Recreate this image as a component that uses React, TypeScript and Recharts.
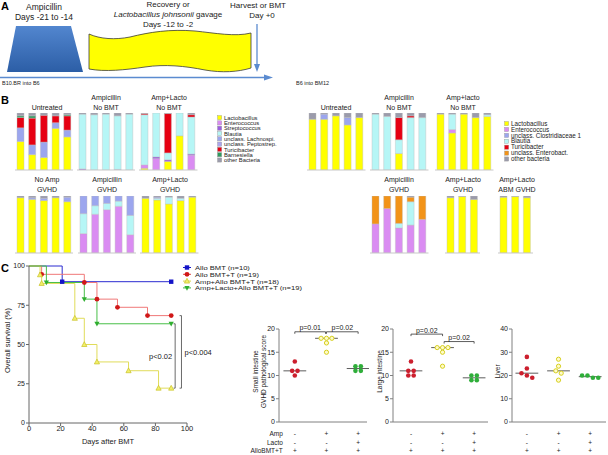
import React from 'react';
import { BarChart, Bar, XAxis, YAxis, LineChart, Line, ScatterChart, Scatter, ReferenceLine, Label } from 'recharts';

const FONT = 'Arial, "Liberation Sans", Helvetica, sans-serif';
const TXT = '#222';

// ---------- Panel B data ----------
const TAXA_COLORS: Record<string, string> = {
  lacto: '#ffff00', entero: '#da8cf2', strepto: '#9c5fe0', blautia: '#b6f6f6', lachno: '#9ca6ee',
  pepto: '#aaa4ec', turici: '#e60012', barnes: '#2f9a5f', other: '#9b9bab', clostri: '#9ca6ee', enterob: '#f29318',
};
const LEFT_KEYS = ['lacto', 'entero', 'strepto', 'blautia', 'lachno', 'pepto', 'turici', 'barnes', 'other'];
const RIGHT_KEYS = ['lacto', 'entero', 'clostri', 'blautia', 'turici', 'enterob', 'other'];
const LEFT_LEGEND = [
  ['Lactobacillus', 'lacto'], ['Enterococcus', 'entero'], ['Streptococcus', 'strepto'], ['Blautia', 'blautia'],
  ['unclass. Lachnospi.', 'lachno'], ['unclass. Peptostrep.', 'pepto'], ['Turicibacter', 'turici'],
  ['Barnesiella', 'barnes'], ['other Bacteria', 'other'],
];
const RIGHT_LEGEND = [
  ['Lactobacillus', 'lacto'], ['Enterococcus', 'entero'], ['unclass. Clostridiaceae 1', 'clostri'], ['Blautia', 'blautia'],
  ['Turicibacter', 'turici'], ['unclass. Enterobact.', 'enterob'], ['other bacteria', 'other'],
];

const untreatedL = [
  { lacto: 50, lachno: 24, turici: 18, barnes: 3, other: 5 },
  { lacto: 27, lachno: 17, turici: 47, barnes: 4, other: 5 },
  { lacto: 22, lachno: 27, turici: 47, other: 4 },
  { lacto: 73, lachno: 10, turici: 12, other: 5 },
  { lacto: 58, lachno: 12, turici: 25, barnes: 2, other: 3 },
];
const ampNoBmtL = [
  { strepto: 2, blautia: 96, other: 2 },
  { blautia: 97, other: 3 },
  { blautia: 98, other: 2 },
  { strepto: 1, blautia: 94, other: 5 },
  { blautia: 98, other: 2 },
];
const lactoNoBmtL = [
  { lacto: 3, entero: 6, blautia: 88, turici: 2, other: 1 },
  { entero: 20, strepto: 3, blautia: 77 },
  { lacto: 15, strepto: 3, blautia: 12, turici: 69, other: 1 },
  { lacto: 60, blautia: 40 },
  { entero: 26, strepto: 2, blautia: 65, turici: 4, other: 3 },
];
const noAmpGvhdL = [
  { lacto: 97, other: 3 },
  { lacto: 94, lachno: 3, other: 3 },
  { lacto: 92, lachno: 4, other: 4 },
  { lacto: 97, other: 3 },
  { lacto: 90, lachno: 8, other: 2 },
];
const ampGvhdL = [
  { entero: 34, blautia: 35, lachno: 31 },
  { entero: 68, blautia: 15, lachno: 17 },
  { entero: 76, blautia: 11, lachno: 13 },
  { entero: 82, blautia: 9, lachno: 9 },
  { entero: 32, blautia: 34, lachno: 34 },
];
const lactoGvhdL = [
  { lacto: 96, other: 4 },
  { lacto: 93, blautia: 3, lachno: 2, other: 2 },
  { lacto: 86, blautia: 12, other: 2 },
  { lacto: 92, blautia: 4, other: 4 },
  { lacto: 98, other: 2 },
];
const untreatedR = [
  { lacto: 89, other: 11 },
  { lacto: 89, clostri: 9, other: 2 },
  { lacto: 95, other: 5 },
  { lacto: 79, clostri: 13, other: 8 },
  { lacto: 92, other: 8 },
];
const ampNoBmtR = [
  { blautia: 98, other: 2 },
  { blautia: 94, other: 6 },
  { lacto: 29, blautia: 24, turici: 39, other: 8 },
  { blautia: 92, turici: 3, other: 5 },
  { blautia: 92, other: 8 },
];
const lactoNoBmtR = [
  { lacto: 98, other: 2 },
  { lacto: 65, entero: 6, blautia: 27, other: 2 },
  { lacto: 98, other: 2 },
  { lacto: 92, other: 8 },
  { lacto: 94, blautia: 3, other: 3 },
];
const ampGvhdR = [
  { entero: 51, enterob: 49 },
  { entero: 78, enterob: 22 },
  { entero: 44, blautia: 8, enterob: 48 },
  { entero: 49, blautia: 41, enterob: 8, other: 2 },
  { entero: 59, enterob: 41 },
];
const lactoGvhdR = [
  { lacto: 97, other: 3 },
  { lacto: 99, other: 1 },
  { lacto: 94, other: 6 },
];
const abmGvhdR = [
  { lacto: 98, other: 2 },
  { lacto: 99, other: 1 },
  { lacto: 97, other: 3 },
];

// ---------- Panel C survival data ----------
const alloBmt = [{ x: 0, y: 100 }, { x: 21, y: 90 }, { x: 90, y: 90 }];
const alloBmtT = [{ x: 0, y: 100 }, { x: 8, y: 94.7 }, { x: 35, y: 89.5 }, { x: 43, y: 78.9 }, { x: 56, y: 73.7 }, { x: 75, y: 68.4 }, { x: 90, y: 68.4 }];
const ampAllo = [{ x: 0, y: 100 }, { x: 7, y: 94.4 }, { x: 8, y: 88.9 }, { x: 29, y: 66.7 }, { x: 35, y: 50 }, { x: 43, y: 38.9 }, { x: 63, y: 33.3 }, { x: 82, y: 22.2 }, { x: 90, y: 22.2 }];
const ampLactoAllo = [{ x: 0, y: 100 }, { x: 11, y: 89.5 }, { x: 35, y: 78.9 }, { x: 43, y: 63.2 }, { x: 90, y: 63.2 }];
const survivalTicksX = [0, 20, 40, 60, 80, 100];
const survivalTicksY = [0, 25, 50, 75, 100];

// ---------- Panel C dot plots ----------
const siRed = [13, 11, 11, 10];
const siYellow = [18, 18, 18, 17, 15];
const siGreen = [12, 12, 11, 11];
const liRed = [13, 11, 11, 10, 10];
const liYellow = [16, 16, 16, 15, 12];
const liGreen = [10, 10, 9, 9];
const lvRed = [28, 23, 21, 20, 19];
const lvYellow = [27, 24, 22, 21, 18];
const lvGreen = [20, 20, 19, 19];
const ampRow = ['-', '+', '+'];
const lactoRow = ['-', '-', '+'];
const alloRow = ['+', '+', '+'];
const SIGN_ROWS = [
  { name: 'Amp', signs: ampRow },
  { name: 'Lacto', signs: lactoRow },
  { name: 'AlloBMT+T', signs: alloRow },
];

// ---------- helpers ----------
function StackGroup({ data, keys, left, top }: any) {
  const rows = data.map((d: any, i: number) => {
    const r: any = { id: i };
    keys.forEach((k: string) => { r[k] = d[k] ?? 0; });
    return r;
  });
  const width = rows.length * 11.7;
  return (
    <div style={{ position: 'absolute', left, top }}>
      <BarChart width={width} height={58} data={rows} margin={{ top: 0, right: 0, bottom: 0, left: 0 }} barSize={7}>
        <XAxis dataKey="id" tick={false} tickLine={false} height={1} axisLine={{ stroke: '#c8c8c8' }} />
        <YAxis hide domain={[0, 100]} allowDataOverflow />
        {keys.map((k: string) => (
          <Bar key={k} dataKey={k} stackId="s" fill={TAXA_COLORS[k]} stroke="#bdbdbd" strokeWidth={0.4} isAnimationActive={false} />
        ))}
      </BarChart>
    </div>
  );
}

function GroupTitle({ cx, y, lines }: any) {
  return (
    <>
      {lines.map((l: string, i: number) => (
        <div key={i} style={{ position: 'absolute', left: cx - 40, width: 80, top: y + i * 10 - 7, textAlign: 'center', fontSize: 7, lineHeight: '9px', color: TXT, whiteSpace: 'nowrap' }}>{l}</div>
      ))}
    </>
  );
}

function TaxaLegend({ items, x, y, step, fs }: any) {
  return (
    <svg width={120} height={70} style={{ position: 'absolute', left: x, top: y }}>
      {items.map(([name, key]: any, i: number) => (
        <g key={key}>
          <rect x={0.5} y={i * step + 0.5} width={4.2} height={4.2} fill={TAXA_COLORS[key]} stroke="#999" strokeWidth={0.4} />
          <text x={7} y={i * step + 4.7} fontSize={fs} fill="#1a1a1a" fontFamily={FONT}>{name}</text>
        </g>
      ))}
    </svg>
  );
}

function markerShape(kind: string, cx: number, cy: number, key: any) {
  if (kind === 'square') return <rect key={key} x={cx - 2.2} y={cy - 2.2} width={4.4} height={4.4} fill="#1414c8" />;
  if (kind === 'circle') return <circle key={key} cx={cx} cy={cy} r={2.4} fill="#d01818" />;
  if (kind === 'up') return <polygon key={key} points={`${cx},${cy - 2.8} ${cx - 2.6},${cy + 2} ${cx + 2.6},${cy + 2}`} fill="#f2ef6a" stroke="#c9c225" strokeWidth={0.7} />;
  return <polygon key={key} points={`${cx},${cy + 2.8} ${cx - 2.6},${cy - 2} ${cx + 2.6},${cy - 2}`} fill="#2fae2f" />;
}

const makeDot = (kind: string) => (p: any) => {
  if (p.index === 0 || p.cx == null) return <g key={`d${p.index}`} />;
  return markerShape(kind, p.cx, p.cy, `d${p.index}`);
};

function median(v: number[]) {
  const s = [...v].sort((a, b) => a - b);
  const m = Math.floor(s.length / 2);
  return s.length % 2 ? s[m] : (s[m - 1] + s[m]) / 2;
}

function swarm(values: number[], cat: number, ppu: number, pxPerX: number) {
  const d = 4.6;
  const s = 5.4 / pxPerX;
  const idx = values.map((_, i) => i).sort((a, b) => values[b] - values[a]);
  const clusters: number[][] = [];
  for (const i of idx) {
    const last = clusters[clusters.length - 1];
    if (last && Math.abs(values[last[last.length - 1]] - values[i]) * ppu < d) last.push(i);
    else clusters.push([i]);
  }
  const out: any[] = values.map(() => ({ x: 0, y: 0 }));
  clusters.forEach((c) => c.forEach((i, j) => { out[i] = { x: cat + (j - (c.length - 1) / 2) * s, y: values[i] }; }));
  return out;
}

const SignTick = (props: any) => {
  const { x, y, payload, showNames } = props;
  const i = Math.round(payload.value) - 1;
  return (
    <g>
      {SIGN_ROWS.map((row, r) => (
        <g key={r}>
          {showNames && i === 0 && (
            <text x={x - 12} y={y + 12 + r * 8.5} textAnchor="end" fontSize={6.5} fill={TXT} fontFamily={FONT}>{row.name}</text>
          )}
          <text x={x} y={y + 12 + r * 8.5} textAnchor="middle" fontSize={6.5} fill={TXT} fontFamily={FONT}>{row.signs[i]}</text>
        </g>
      ))}
    </g>
  );
};

const redShape = (p: any) => <circle cx={p.cx} cy={p.cy} r={2.3} fill="#cc1f2e" />;
const yellowShape = (p: any) => <circle cx={p.cx} cy={p.cy} r={2.1} fill="#fffbc8" stroke="#d6cf1e" strokeWidth={1} />;
const greenShape = (p: any) => <circle cx={p.cx} cy={p.cy} r={2.3} fill="#2fae3a" />;

function DotPlot({ left, yWidth, plotW, domainX, yMax, yTicks, groups, brackets, labelLines, labelOffsets, showNames }: any) {
  const plotH = 93;
  const ppu = plotH / yMax;
  const pxPerX = plotW / (domainX[1] - domainX[0]);
  const colors = [redShape, yellowShape, greenShape];
  const tickUnits = 2 / ppu;
  return (
    <div style={{ position: 'absolute', left, top: 300 }}>
      <ScatterChart width={yWidth + plotW + 2} height={155} margin={{ top: 29, right: 2, bottom: 0, left: 0 }}>
        <XAxis type="number" dataKey="x" domain={domainX} ticks={[1, 2, 3]} height={33} tickSize={0} tickLine={false}
          axisLine={{ stroke: '#808080' }} allowDataOverflow
          tick={(p: any) => <SignTick {...p} showNames={showNames} />} />
        <YAxis type="number" dataKey="y" domain={[0, yMax]} ticks={yTicks} width={yWidth} tickSize={3} tickMargin={1}
          axisLine={{ stroke: '#808080' }} tickLine={{ stroke: '#808080' }}
          tick={{ fontSize: 7, fill: TXT, fontFamily: FONT }}>
          <Label content={(lp: any) => {
            const vb = lp.viewBox;
            const cy = vb.y + vb.height / 2 - 4;
            const ax = vb.x + vb.width;
            return (
              <g>
                {labelLines.map((t: string, i: number) => (
                  <text key={i} x={ax + labelOffsets[i]} y={cy} transform={`rotate(-90 ${ax + labelOffsets[i]} ${cy})`}
                    textAnchor="middle" dominantBaseline="central" fontSize={6.5} fill={TXT} fontFamily={FONT}>{t}</text>
                ))}
              </g>
            );
          }} />
        </YAxis>
        {groups.map((vals: number[], gi: number) => (
          <Scatter key={gi} data={swarm(vals, gi + 1, ppu, pxPerX)} shape={colors[gi]} isAnimationActive={false} />
        ))}
        {groups.map((vals: number[], gi: number) => (
          <ReferenceLine key={`m${gi}`} segment={[{ x: gi + 1 - 0.36, y: median(vals) }, { x: gi + 1 + 0.36, y: median(vals) }]}
            stroke="#333" strokeWidth={0.8} ifOverflow="visible" />
        ))}
        {brackets.map((b: any, bi: number) => (
          <React.Fragment key={`b${bi}`}>
            <ReferenceLine segment={[{ x: b.x1, y: b.y }, { x: b.x2, y: b.y }]} stroke="#333" strokeWidth={0.8} ifOverflow="visible"
              label={{ value: b.text, position: 'top', offset: 1.5, fontSize: 7, fill: TXT, fontFamily: FONT }} />
            <ReferenceLine segment={[{ x: b.x1, y: b.y }, { x: b.x1, y: b.y - tickUnits }]} stroke="#333" strokeWidth={0.8} ifOverflow="visible" />
            <ReferenceLine segment={[{ x: b.x2, y: b.y }, { x: b.x2, y: b.y - tickUnits }]} stroke="#333" strokeWidth={0.8} ifOverflow="visible" />
          </React.Fragment>
        ))}
      </ScatterChart>
    </div>
  );
}

const SURV_LEGEND = [
  { name: 'Allo BMT (n=10)', kind: 'square', color: '#1414c8' },
  { name: 'Allo BMT+T (n=19)', kind: 'circle', color: '#e04848' },
  { name: 'Amp+Allo BMT+T (n=18)', kind: 'up', color: '#d8d340' },
  { name: 'Amp+Lacto+Allo BMT+T (n=19)', kind: 'down', color: '#3cb43c' },
];

function PanelA() {
  return (
    <svg width={300} height={92} style={{ position: 'absolute', left: 0, top: 0 }} fontFamily={FONT}>
      <defs>
        <linearGradient id="ampG" x1="0" y1="0" x2="0" y2="1">
          <stop offset="0" stopColor="#5286cf" />
          <stop offset="1" stopColor="#2c5ea6" />
        </linearGradient>
      </defs>
      <text x={1} y={10} fontSize={11} fontWeight="bold" fill="#000">A</text>
      <polygon points="7,72 16,26 71,26 83,72" fill="url(#ampG)" />
      <path d="M89,34 C100,39 115,40 130,37 C150,32 170,29 195,31 C215,33 235,37 251,33 L251,68 C238,72 222,73 205,70 C185,66 165,64 145,67 C125,70 105,72 89,69 Z"
        fill="#ffff00" stroke="#3a3a3a" strokeWidth={0.8} />
      <line x1={0} y1={77.5} x2={266} y2={77.5} stroke="#5b8bd0" strokeWidth={1.3} />
      <polygon points="273,77.5 264,74.5 264,80.5" fill="#5b8bd0" />
      <line x1={257} y1={24} x2={257} y2={66} stroke="#5b8bd0" strokeWidth={1.3} />
      <polygon points="257,72 254,64 260,64" fill="#5b8bd0" />
      <text x={44} y={10} fontSize={8.5} textAnchor="middle" fill={TXT}>Ampicillin</text>
      <text x={44} y={20} fontSize={8.5} textAnchor="middle" fill={TXT}>Days -21 to -14</text>
      <text x={168} y={7} fontSize={8} textAnchor="middle" fill={TXT}>Recovery or</text>
      <text x={168} y={17} fontSize={8} textAnchor="middle" fill={TXT}>
        <tspan fontStyle="italic">Lactobacillus johnsonii</tspan> gavage
      </text>
      <text x={168} y={27} fontSize={8} textAnchor="middle" fill={TXT}>Days -12 to -2</text>
      <text x={258} y={8} fontSize={8} textAnchor="middle" fill={TXT}>Harvest or BMT</text>
      <text x={262} y={18} fontSize={8} textAnchor="middle" fill={TXT}>Day +0</text>
      <text x={2} y={85} fontSize={5.5} fill={TXT}>B10.BR into B6</text>
    </svg>
  );
}

export default function App() {
  return (
    <div style={{ position: 'absolute', left: 0, top: 0, width: 608, height: 455, overflow: 'hidden', background: '#fff', fontFamily: FONT }}>
      <PanelA />
      <div style={{ position: 'absolute', left: 296, top: 80, fontSize: 5.5, color: TXT, whiteSpace: 'nowrap' }}>B6 into BM12</div>
      <div style={{ position: 'absolute', left: 1, top: 94, fontSize: 11, fontWeight: 'bold', color: '#000' }}>B</div>
      <div style={{ position: 'absolute', left: 1, top: 262, fontSize: 11, fontWeight: 'bold', color: '#000' }}>C</div>

      {/* Panel B titles */}
      <GroupTitle cx={47} y={110} lines={['Untreated']} />
      <GroupTitle cx={106} y={100} lines={['Ampicillin', 'No BMT']} />
      <GroupTitle cx={169} y={100} lines={['Amp+Lacto', 'No BMT']} />
      <GroupTitle cx={47} y={182} lines={['No Amp', 'GVHD']} />
      <GroupTitle cx={107} y={182} lines={['Ampicillin', 'GVHD']} />
      <GroupTitle cx={170} y={182} lines={['Amp+Lacto', 'GVHD']} />
      <GroupTitle cx={336} y={110} lines={['Untreated']} />
      <GroupTitle cx={399} y={100} lines={['Ampicillin', 'No BMT']} />
      <GroupTitle cx={463} y={100} lines={['Amp+lacto', 'No BMT']} />
      <GroupTitle cx={399} y={182} lines={['Ampicillin', 'GVHD']} />
      <GroupTitle cx={463} y={182} lines={['Amp+Lacto', 'GVHD']} />
      <GroupTitle cx={517} y={182} lines={['Amp+Lacto', 'ABM GVHD']} />

      {/* Panel B bars */}
      <StackGroup data={untreatedL} keys={LEFT_KEYS} left={14.7} top={113} />
      <StackGroup data={ampNoBmtL} keys={LEFT_KEYS} left={76.7} top={113} />
      <StackGroup data={lactoNoBmtL} keys={LEFT_KEYS} left={139.3} top={113} />
      <StackGroup data={noAmpGvhdL} keys={LEFT_KEYS} left={14.6} top={196} />
      <StackGroup data={ampGvhdL} keys={LEFT_KEYS} left={77.7} top={196} />
      <StackGroup data={lactoGvhdL} keys={LEFT_KEYS} left={140.3} top={196} />
      <StackGroup data={untreatedR} keys={RIGHT_KEYS} left={307} top={113} />
      <StackGroup data={ampNoBmtR} keys={RIGHT_KEYS} left={370} top={113} />
      <StackGroup data={lactoNoBmtR} keys={RIGHT_KEYS} left={435} top={113} />
      <StackGroup data={ampGvhdR} keys={RIGHT_KEYS} left={370} top={196} />
      <StackGroup data={lactoGvhdR} keys={RIGHT_KEYS} left={444.9} top={196} />
      <StackGroup data={abmGvhdR} keys={RIGHT_KEYS} left={497.6} top={196} />

      <TaxaLegend items={LEFT_LEGEND} x={216.5} y={114.5} step={5.3} fs={5.8} />
      <TaxaLegend items={RIGHT_LEGEND} x={503.5} y={121.3} step={5.9} fs={6.3} />

      {/* Survival */}
      <div style={{ position: 'absolute', left: 0, top: 255 }}>
        <LineChart width={240} height={200} margin={{ top: 11, right: 53, bottom: 0, left: 0 }}>
          <XAxis type="number" dataKey="x" domain={[0, 100]} ticks={survivalTicksX} height={32} tickSize={3} tickMargin={0}
            axisLine={{ stroke: '#666' }} tickLine={{ stroke: '#666' }} tick={{ fontSize: 7.5, fill: TXT, fontFamily: FONT }}>
            <Label value="Days after BMT" position="insideBottom" offset={11} fontSize={7.5} fill={TXT} fontFamily={FONT} />
          </XAxis>
          <YAxis type="number" dataKey="y" domain={[0, 100]} ticks={survivalTicksY} width={29} tickSize={3} tickMargin={1}
            axisLine={{ stroke: '#666' }} tickLine={{ stroke: '#666' }} tick={{ fontSize: 7, fill: TXT, fontFamily: FONT }}>
            <Label content={(lp: any) => {
              const vb = lp.viewBox;
              const cy = vb.y + vb.height / 2 - 4;
              return <text x={7.5} y={cy} transform={`rotate(-90 7.5 ${cy})`} textAnchor="middle" dominantBaseline="central" fontSize={7.5} fill={TXT} fontFamily={FONT}>Overall survival (%)</text>;
            }} />
          </YAxis>
          <Line data={alloBmt} dataKey="y" type="stepAfter" stroke="#2b2bd0" strokeWidth={1} dot={makeDot('square')} isAnimationActive={false} />
          <Line data={alloBmtT} dataKey="y" type="stepAfter" stroke="#f07878" strokeWidth={1} dot={makeDot('circle')} isAnimationActive={false} />
          <Line data={ampAllo} dataKey="y" type="stepAfter" stroke="#e0dc5a" strokeWidth={1} dot={makeDot('up')} isAnimationActive={false} />
          <Line data={ampLactoAllo} dataKey="y" type="stepAfter" stroke="#48bf48" strokeWidth={1} dot={makeDot('down')} isAnimationActive={false} />
          <ReferenceLine segment={[{ x: 92.5, y: 63.2 }, { x: 92.5, y: 22.2 }]} stroke="#444" strokeWidth={0.8}
            label={{ value: 'p<0.02', position: 'left', offset: 3, fontSize: 7.5, fill: TXT, fontFamily: FONT }} />
          <ReferenceLine segment={[{ x: 91.5, y: 63.2 }, { x: 92.5, y: 63.2 }]} stroke="#444" strokeWidth={0.8} />
          <ReferenceLine segment={[{ x: 91.5, y: 22.2 }, { x: 92.5, y: 22.2 }]} stroke="#444" strokeWidth={0.8} />
          <ReferenceLine segment={[{ x: 96.5, y: 68.4 }, { x: 96.5, y: 22.2 }]} stroke="#444" strokeWidth={0.8} ifOverflow="visible"
            label={{ value: 'p<0.004', position: 'right', offset: 3, fontSize: 7.5, fill: TXT, fontFamily: FONT }} />
          <ReferenceLine segment={[{ x: 95.3, y: 68.4 }, { x: 96.5, y: 68.4 }]} stroke="#444" strokeWidth={0.8} />
          <ReferenceLine segment={[{ x: 95.3, y: 22.2 }, { x: 96.5, y: 22.2 }]} stroke="#444" strokeWidth={0.8} />
        </LineChart>
      </div>
      <svg width={150} height={32} style={{ position: 'absolute', left: 180, top: 262 }}>
        {SURV_LEGEND.map((it, i) => {
          const cy = 5.5 + i * 6.8;
          return (
            <g key={it.name}>
              <line x1={3} y1={cy} x2={11} y2={cy} stroke={it.color} strokeWidth={1} />
              {markerShape(it.kind, 7, cy, 'm')}
              <g transform={`translate(15 ${cy + 2.5}) scale(1 0.82)`}>
                <text x={0} y={0} fontSize={7.6} fill={TXT} fontFamily={FONT}>{it.name}</text>
              </g>
            </g>
          );
        })}
      </svg>

      {/* Dot plots */}
      <DotPlot left={230} yWidth={49} plotW={88} domainX={[0.5, 3.28]} yMax={20} yTicks={[0, 5, 10, 15, 20]}
        groups={[siRed, siYellow, siGreen]} showNames
        labelLines={['Small intestine', 'GVHD pathological score']} labelOffsets={[-24, -16]}
        brackets={[{ x1: 1, x2: 1.97, y: 19.4, text: 'p=0.01' }, { x1: 2.0, x2: 3.0, y: 19.4, text: 'p=0.02' }]} />
      <DotPlot left={350} yWidth={43} plotW={95} domainX={[0.43, 3.44]} yMax={20} yTicks={[0, 5, 10, 15, 20]}
        groups={[liRed, liYellow, liGreen]}
        labelLines={['Large intestine']} labelOffsets={[-14]}
        brackets={[{ x1: 1, x2: 2, y: 18.9, text: 'p=0.02' }, { x1: 2.05, x2: 3, y: 17.3, text: 'p=0.02' }]} />
      <DotPlot left={470} yWidth={42} plotW={94} domainX={[0.53, 3.5]} yMax={40} yTicks={[0, 10, 20, 30, 40]}
        groups={[lvRed, lvYellow, lvGreen]}
        labelLines={['Liver']} labelOffsets={[-15]}
        brackets={[]} />
    </div>
  );
}
